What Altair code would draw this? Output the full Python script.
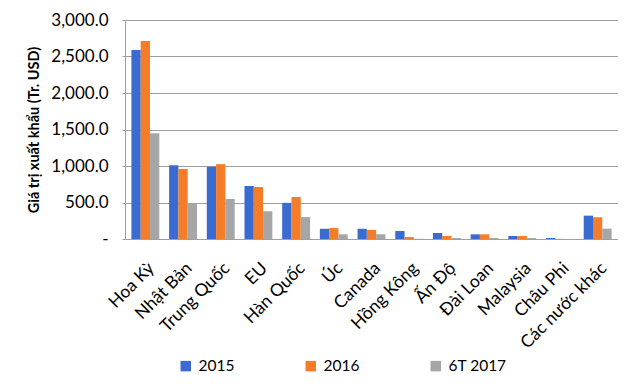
import altair as alt
import pandas as pd

countries = ["Hoa Kỳ", "Nhật Bản", "Trung Quốc", "EU", "Hàn Quốc", "Úc", "Canada",
             "Hồng Kông", "Ấn Độ", "Đài Loan", "Malaysia", "Châu Phi", "Các nước khác"]
series = ["2015", "2016", "6T 2017"]
v2015 = [2590, 1010, 990, 725, 495, 140, 140, 110, 82, 64, 41, 14, 320]
v2016 = [2712, 960, 1025, 712, 575, 150, 123, 27, 41, 64, 41, 2, 298]
v6t2017 = [1450, 490, 548, 380, 300, 64, 64, 3, 14, 14, 14, 1, 142]
colors = ["#3A6BD1", "#F57D2A", "#A6A6A6"]

rows = []
for i, c in enumerate(countries):
    for s, vals in zip(series, [v2015, v2016, v6t2017]):
        rows.append({"country": c, "series": s, "value": vals[i]})
df = pd.DataFrame(rows)

FONT = "Lato"

chart = alt.Chart(df).mark_bar().encode(
    x=alt.X("country:N", sort=countries, title=None,
            scale=alt.Scale(paddingInner=0.26, paddingOuter=0.17),
            axis=alt.Axis(labelAngle=-45, labelFontSize=17.5, labelFont=FONT,
                          labelColor="#000000", ticks=False, domainColor="#A0A0A0",
                          labelPadding=20, labelLimit=200)),
    xOffset=alt.XOffset("series:N", sort=series),
    y=alt.Y("value:Q", title="Giá trị xuất khẩu (Tr. USD)",
            scale=alt.Scale(domain=[0, 3000], nice=False),
            axis=alt.Axis(values=[0, 500, 1000, 1500, 2000, 2500, 3000],
                          labelExpr="datum.value == 0 ? '-' : format(datum.value, ',.1f')",
                          labelFontSize=17, labelFont=FONT, labelColor="#000000",
                          titleFont=FONT, titleFontSize=14.5, titleFontWeight="bold",
                          titleColor="#000000", titlePadding=9,
                          gridColor="#A0A0A0", domainColor="#A0A0A0",
                          tickColor="#A0A0A0", tickSize=3, labelPadding=14)),
    color=alt.Color("series:N", sort=series,
                    scale=alt.Scale(domain=series, range=colors),
                    legend=alt.Legend(title=None, orient="none", direction="horizontal",
                                      legendX=53, legendY=338, symbolType="square",
                                      symbolSize=110, symbolStrokeWidth=0,
                                      labelFontSize=15.5, labelFont=FONT,
                                      labelColor="#000000", labelOffset=5,
                                      gridAlign="all", columnPadding=46)),
).properties(
    width=493, height=219,
    autosize=alt.AutoSizeParams(type="none"),
    padding={"left": 117, "top": 12, "right": 0, "bottom": 136},
).configure_view(stroke=None).configure(background="#FFFFFF")

chart.save("out.html", embed_options={"renderer": "svg", "actions": False})
